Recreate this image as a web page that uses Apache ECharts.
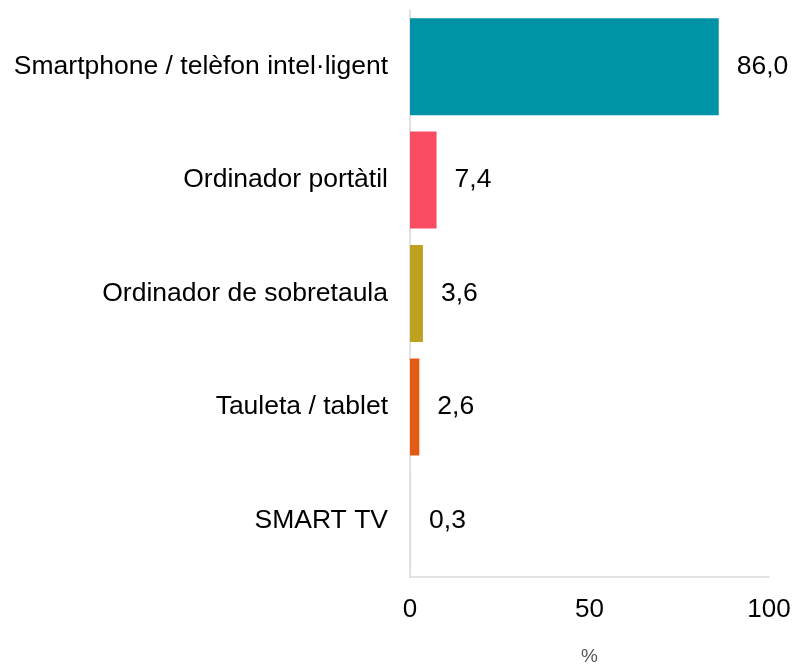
<!DOCTYPE html>
<html>
<head>
<meta charset="utf-8">
<script src="https://cdn.jsdelivr.net/npm/echarts@6/dist/echarts.min.js"></script>
<style>
  html, body { margin: 0; padding: 0; background: #fff; }
  #chart { width: 794px; height: 666px; }
</style>
</head>
<body>
<div id="chart"></div>
<script>
// dades
var categories = ['Smartphone / telèfon intel·ligent', 'Ordinador portàtil', 'Ordinador de sobretaula', 'Tauleta / tablet', 'SMART TV'];
var values = [86.0, 7.4, 3.6, 2.6, 0.3];
var colors = ['#0093A7', '#F94B61', '#BDA21F', '#E35A12', '#D9D9D9'];
var xTicks = [0, 50, 100];

var myChart = echarts.init(document.getElementById('chart'));
var font = 'Liberation Sans, Arial, sans-serif';

var option = {
  animation: false,
  grid: { left: 410, right: 25, top: 10, bottom: 89, outerBoundsMode: 'none', containLabel: false },
  xAxis: {
    type: 'value',
    min: xTicks[0],
    max: xTicks[xTicks.length - 1],
    interval: 50,
    name: '%',
    nameLocation: 'middle',
    nameGap: 70,
    nameTextStyle: { color: '#595959', fontSize: 19, fontFamily: font },
    axisLine: { show: true, lineStyle: { color: '#D9D9D9', width: 1.5 } },
    axisTick: { show: false },
    splitLine: { show: false },
    axisLabel: { color: '#000', fontSize: 26, fontFamily: font, margin: 20 }
  },
  yAxis: {
    type: 'category',
    inverse: true,
    data: categories,
    axisLine: { show: true, lineStyle: { color: '#D9D9D9', width: 1.5 } },
    axisTick: { show: false },
    axisLabel: { color: '#000', fontSize: 26.5, fontFamily: font, margin: 22 }
  },
  series: [{
    type: 'bar',
    barWidth: 97,
    data: values.map(function (v, i) {
      return { value: v, itemStyle: { color: colors[i] } };
    }),
    label: {
      show: true,
      position: 'right',
      distance: 18,
      color: '#000',
      fontSize: 26.5,
      fontFamily: font,
      formatter: function (p) { return p.value.toFixed(1).replace('.', ','); }
    }
  }]
};

myChart.setOption(option);
</script>
</body>
</html>
